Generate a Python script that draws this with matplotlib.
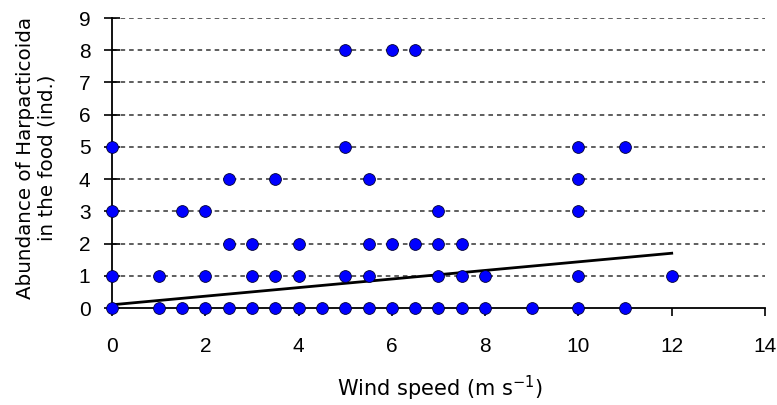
import matplotlib
matplotlib.use("Agg")
import matplotlib.pyplot as plt
import numpy as np

# Data (wind speeds grouped by abundance level)
wind_y0 = [0, 1, 1.5, 2, 2.5, 3, 3.5, 4, 4.5, 5, 5.5, 6, 6.5, 7, 7.5, 8, 9, 10, 11]
wind_y1 = [0, 1, 2, 3, 3.5, 4, 5, 5.5, 7, 7.5, 8, 10, 12]
wind_y2 = [2.5, 3, 4, 5.5, 6, 6.5, 7, 7.5]
wind_y3 = [0, 1.5, 2, 7, 10]
wind_y4 = [2.5, 3.5, 5.5, 10]
wind_y5 = [0, 5, 10, 11]
wind_y8 = [5, 6, 6.5]

levels = [0, 1, 2, 3, 4, 5, 8]
groups = [wind_y0, wind_y1, wind_y2, wind_y3, wind_y4, wind_y5, wind_y8]

# Trend line
trend_intercept = 0.10
trend_slope = 0.1333
trend_x = [0, 12]

x_ticks = [0, 2, 4, 6, 8, 10, 12, 14]
y_ticks = [0, 1, 2, 3, 4, 5, 6, 7, 8, 9]

tick_family = ['Liberation Sans', 'DejaVu Sans']
label_family = ['DejaVu Sans']

fig = plt.figure(figsize=(7.77, 4.05), dpi=100)
ax = fig.add_axes([112/777, 1-308/405, (765-112)/777, (308-18)/405])

xs = []
ys = []
for lv, g in zip(levels, groups):
    xs.extend(g)
    ys.extend([lv]*len(g))

for yv in y_ticks[1:]:
    ax.axhline(yv, color='#333333', lw=1.1, ls=(0, (3.0, 2.6)), zorder=1)

tx = np.array(trend_x, dtype=float)
ax.plot(tx, trend_intercept + trend_slope*tx, color='black', lw=2.0, zorder=2)

ax.scatter(xs, ys, s=72, c='#0000FF', edgecolors='#000033', linewidths=0.6, zorder=3, clip_on=False)

ax.set_xlim(0, 14)
ax.set_ylim(0, 9)
ax.set_xticks(x_ticks)
ax.set_yticks(y_ticks)
for s in ['top', 'right']:
    ax.spines[s].set_visible(False)
for s in ['left', 'bottom']:
    ax.spines[s].set_linewidth(1.3)
    ax.spines[s].set_color('black')
ax.tick_params(axis='x', direction='out', length=6, width=1.2, pad=15)
ax.tick_params(axis='y', direction='inout', length=11, width=1.2, pad=10)
for lab in ax.get_xticklabels() + ax.get_yticklabels():
    lab.set_family(tick_family)
    lab.set_fontsize(15)

fig.text(440/777, 1-396/405, 'Wind speed (m s$^{\\mathregular{-1}}$)', family=label_family,
         fontsize=15, ha='center', va='baseline')
fig.text(36/777, 1-158/405, 'Abundance of Harpacticoida\nin the food (ind.)', family=label_family,
         fontsize=14.3, ha='center', va='center', rotation=90, multialignment='center',
         linespacing=1.15)

fig.savefig('out.png', dpi=100)
